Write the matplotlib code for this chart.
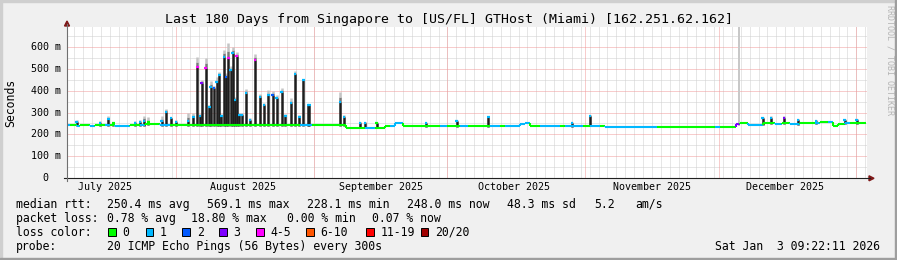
"""
Smokeping style latency graph, last 180 days Singapore -> Miami.
"""

import numpy as np
import pandas as pd
import matplotlib
matplotlib.use("Agg")
from matplotlib import pyplot as plt
from matplotlib import patches
from matplotlib import lines
from matplotlib import transforms
import matplotlib.dates as mdates

START = pd.Timestamp("2025-07-07 09:22")
END = pd.Timestamp("2026-01-03 09:22")

# median rtt baseline, each level holds until the next start
base_start = ["2025-07-07 09:22", "2025-07-08 01:40", "2025-07-09 15:20", "2025-07-10 07:00",
              "2025-07-12 14:10", "2025-07-13 16:40", "2025-07-15 22:40", "2025-07-17 02:10",
              "2025-07-18 04:40", "2025-07-21 14:10", "2025-07-23 19:00", "2025-07-24 22:40",
              "2025-07-28 07:00", "2025-07-30 14:10", "2025-08-28 19:00", "2025-08-31 11:50",
              "2025-09-04 14:10", "2025-09-08 04:40", "2025-09-12 10:40", "2025-09-14 16:40",
              "2025-09-16 22:40", "2025-09-18 02:10", "2025-09-19 04:40", "2025-09-20 23:40",
              "2025-09-29 07:00", "2025-09-30 21:20", "2025-10-03 19:00", "2025-10-05 14:10",
              "2025-10-10 14:10", "2025-10-12 19:00", "2025-10-13 21:20", "2025-10-17 07:00",
              "2025-10-18 10:40", "2025-10-19 14:10", "2025-10-21 19:00", "2025-10-26 07:00",
              "2025-10-27 10:40", "2025-10-31 11:50", "2025-11-02 02:10", "2025-11-04 07:00",
              "2025-11-05 10:40", "2025-11-17 03:20", "2025-11-30 04:40", "2025-12-01 07:00",
              "2025-12-04 21:20", "2025-12-05 19:00", "2025-12-07 14:10", "2025-12-11 00:00",
              "2025-12-13 16:40", "2025-12-15 07:00", "2025-12-17 02:10", "2025-12-19 07:00",
              "2025-12-22 16:40", "2025-12-23 19:00", "2025-12-25 14:10", "2025-12-26 19:00",
              "2025-12-27 21:20", "2025-12-29 09:20", "2025-12-30 14:10"]
base_end = "2026-01-03 04:40"
base_ms = [243, 243, 240, 242, 240, 241, 242, 242, 240, 241, 243, 247, 242, 242, 243, 241,
           243, 231, 231, 231, 237, 237, 252, 238, 237, 238, 237, 238, 237, 238, 238, 247,
           251, 238, 238, 238, 238, 238, 240, 238, 235, 235, 235, 235, 248, 252, 245, 250,
           248, 252, 248, 250, 250, 257, 255, 240, 248, 250, 250]
base_loss = [1, 0, 1, 0, 1, 0, 1, 0, 1, 0, 1, 0, 1, 0, 1, 0, 0, 0, 1, 0, 0, 1, 1, 0,
             1, 0, 1, 0, 1, 0, 1, 1, 1, 0, 1, 0, 1, 0, 1, 0, 1, 0, 1, 0, 3, 0, 1, 0,
             1, 0, 1, 0, 1, 0, 1, 0, 0, 1, 0]

# latency spikes: dense smoke top, faint smoke top (ms) and loss class of the median
spike_time = ["2025-07-09 13:40", "2025-07-14 19:40", "2025-07-16 16:20", "2025-07-17 19:00",
              "2025-07-22 16:40", "2025-07-23 19:00", "2025-07-24 16:40", "2025-07-25 16:30",
              "2025-07-28 16:30", "2025-07-29 16:30", "2025-07-30 19:00", "2025-07-31 21:20",
              "2025-08-03 14:10", "2025-08-04 19:00", "2025-08-05 16:40", "2025-08-06 07:00",
              "2025-08-06 16:40", "2025-08-07 14:10", "2025-08-08 09:20", "2025-08-08 16:40",
              "2025-08-09 11:50", "2025-08-10 02:10", "2025-08-10 16:40", "2025-08-11 02:10",
              "2025-08-11 16:40", "2025-08-12 04:40", "2025-08-12 16:40", "2025-08-13 04:40",
              "2025-08-13 16:40", "2025-08-14 04:40", "2025-08-14 14:10", "2025-08-15 02:10",
              "2025-08-15 16:40", "2025-08-16 16:40", "2025-08-17 14:10", "2025-08-18 16:40",
              "2025-08-19 19:00", "2025-08-20 16:40", "2025-08-21 16:40", "2025-08-22 16:40",
              "2025-08-23 14:10", "2025-08-24 16:40", "2025-08-25 11:50", "2025-08-26 19:00",
              "2025-08-27 16:40", "2025-08-28 16:40", "2025-08-29 14:10", "2025-08-30 14:10",
              "2025-08-30 21:20", "2025-09-06 19:00", "2025-09-07 16:40", "2025-09-11 07:00",
              "2025-09-12 10:40", "2025-09-15 02:10", "2025-09-26 04:40", "2025-10-03 02:10",
              "2025-10-10 04:40", "2025-10-28 23:40", "2025-11-02 02:10", "2025-12-10 21:20",
              "2025-12-12 19:00", "2025-12-15 16:40", "2025-12-18 21:20", "2025-12-22 21:20",
              "2025-12-29 09:20", "2026-01-01 02:10"]
spike_top = [258, 250, 269, 252, 252, 258, 262, 255, 261, 303, 273, 258,
             262, 281, 509, 285, 433, 501, 326, 418, 410, 440, 471, 285,
             554, 460, 547, 494, 570, 357, 559, 290, 290, 387, 268, 539,
             372, 334, 380, 380, 364, 395, 285, 342, 474, 280, 448, 334,
             334, 349, 280, 252, 253, 252, 252, 261, 278, 252, 284, 273,
             276, 276, 268, 262, 265, 268]
spike_smoke = [265, 262, 284, 258, 262, 265, 285, 278, 282, 316, 280, 265,
               297, 300, 554, 295, 450, 547, 335, 445, 420, 460, 485, 295,
               585, 480, 615, 510, 600, 370, 578, 298, 298, 405, 275, 565,
               385, 345, 402, 400, 380, 410, 292, 365, 490, 290, 455, 340,
               340, 395, 290, 258, 258, 256, 256, 266, 285, 256, 290, 278,
               282, 282, 272, 266, 270, 272]
spike_loss = [1, 1, 1, 0, 1, 1, 1, 0, 1, 1, 1, 1,
              1, 1, 4, 1, 3, 4, 1, 1, 2, 1, 1, 1,
              1, 2, 4, 1, 1, 1, 4, 1, 1, 1, 1, 4,
              1, 1, 1, 2, 1, 1, 1, 1, 1, 1, 1, 1,
              1, 1, 1, 1, 1, 0, 1, 1, 1, 1, 1, 1,
              1, 3, 1, 1, 1, 1]

gap_time = "2025-12-05 11:50"

loss_labels = ["0", "1", "2", "3", "4-5", "6-10", "11-19", "20/20"]
loss_colors = ["#00ff00", "#00b8ff", "#0059ff", "#7e00ff", "#ff00ff", "#ff5500", "#ff0000", "#a10000"]

rtt_stats = ["250.4 ms avg", "569.1 ms max", "228.1 ms min", "248.0 ms now", "48.3 ms sd", "5.2", "am/s"]
loss_stats = ["0.78 % avg", "18.80 % max", "0.00 % min", "0.07 % now"]

W, H = 897, 260
YMAX = 690


def fx(x):
    return x / W


def fy(y):
    return 1 - y / H


def main():
    plt.rcParams['font.family'] = ['DejaVu Sans Mono']
    fig = plt.figure(figsize=(W / 100, H / 100), dpi=100)
    fig.patch.set_facecolor('#f0f0f0')

    ax = fig.add_axes([fx(67), fy(178.3), 800 / W, 151.3 / H])
    ax.set_facecolor('white')
    for s in ax.spines.values():
        s.set_visible(False)
    ax.tick_params(length=0, labelbottom=False, labelleft=False)
    ax.set_xlim(mdates.date2num(START), mdates.date2num(END))
    ax.set_ylim(0, YMAX)

    # grid
    days = pd.date_range(START.normalize(), END, freq='D')
    days = days[((days - pd.Timestamp('1970-01-01')).days % 2) == 0]
    ax.vlines(mdates.date2num(days.to_pydatetime()), 0, YMAX, colors='#cfcfcf',
              linestyles=(0, (1, 1)), lw=0.72, zorder=1)
    ax.hlines(np.arange(50, YMAX, 100), *ax.get_xlim(), colors='#cfcfcf',
              linestyles=(0, (1, 1)), lw=0.72, zorder=1)
    months = pd.date_range('2025-08-01', END, freq='MS')
    ax.vlines(mdates.date2num(months.to_pydatetime()), 0, YMAX, colors='#f09a9a',
              linestyles=(0, (1, 1)), lw=0.72, zorder=1)
    ax.hlines(np.arange(100, YMAX, 100), *ax.get_xlim(), colors='#f09a9a',
              linestyles=(0, (1, 1)), lw=0.72, zorder=1)

    # baseline median
    b_t = mdates.date2num(pd.to_datetime(base_start + [base_end]).to_pydatetime())
    for i in range(len(base_ms)):
        c = loss_colors[base_loss[i]]
        ax.hlines(base_ms[i], b_t[i], b_t[i + 1], colors=c, lw=1.5, zorder=3)
        if i > 0:
            ax.vlines(b_t[i], base_ms[i - 1], base_ms[i], colors=c, lw=1.5, zorder=3)

    # spikes with smoke
    s_t = mdates.date2num(pd.to_datetime(spike_time).to_pydatetime())
    idx = np.clip(np.searchsorted(b_t, s_t, side='right') - 1, 0, len(base_ms) - 1)
    s_base = np.array(base_ms)[idx]
    top = np.array(spike_top)
    smoke = np.array(spike_smoke)
    mid = (top + smoke) / 2
    ax.vlines(s_t, top, mid, colors='#7a7a7a', lw=1.8, zorder=2)
    ax.vlines(s_t, mid, smoke, colors='#c4c4c4', lw=1.8, zorder=2)
    ax.vlines(s_t, s_base - 3, top, colors='#1e1e1e', lw=1.8, zorder=2)
    for t, v, l in zip(s_t, top, spike_loss):
        ax.hlines(v, t - 0.3, t + 0.3, colors=loss_colors[l], lw=1.6, zorder=4)

    gt = mdates.date2num(pd.Timestamp(gap_time).to_pydatetime())
    ax.vlines(gt, 240, YMAX, colors='#c8c8c8', lw=1.44, zorder=2)

    # axes and arrows
    fig.add_artist(lines.Line2D([fx(64), fx(870)], [fy(178.3)] * 2, color='#202020', lw=0.8))
    fig.add_artist(lines.Line2D([fx(67)] * 2, [fy(181), fy(24)], color='#707070', lw=0.8))
    arrow = '#7f1818'
    fig.add_artist(patches.Polygon([(fx(64.5), fy(26)), (fx(69.5), fy(26)), (fx(67), fy(21))],
                                   closed=True, color=arrow, transform=fig.transFigure))
    fig.add_artist(patches.Polygon([(fx(869), fy(175.8)), (fx(869), fy(180.8)), (fx(874), fy(178.3))],
                                   closed=True, color=arrow, transform=fig.transFigure))

    fs = 8.3
    afs = 7.2

    # y labels
    yt = transforms.blended_transform_factory(fig.transFigure, ax.transData)
    for v in range(0, 700, 100):
        if v == 0:
            ax.text(fx(48), 0, '0', transform=yt, ha='right', va='center', fontsize=afs)
        else:
            ax.text(fx(60.5), v, '%d m' % v, transform=yt, ha='right', va='center', fontsize=afs)

    # month labels
    xt = transforms.blended_transform_factory(ax.transData, fig.transFigure)
    for m in range(7, 13):
        ts = pd.Timestamp(2025, m, 16)
        ax.text(mdates.date2num(ts.to_pydatetime()), fy(187.3), ts.strftime('%B %Y'),
                transform=xt, ha='center', va='center', fontsize=afs)

    fig.text(fx(448.5), fy(19.3),
             'Last 180 Days from Singapore to [US/FL] GTHost (Miami) [162.251.62.162]',
             ha='center', va='center', fontsize=9.5)
    fig.text(fx(10.7), fy(103), 'Seconds', rotation=90, ha='center', va='center', fontsize=fs)
    fig.text(fx(890), fy(60), 'RRDTOOL / TOBI OETIKER', rotation=-90, ha='center', va='center',
             fontsize=6, color='#b4b4b4')

    # legend
    fig.text(fx(16), fy(204.3), 'median rtt:', va='center', fontsize=fs)
    for x, s in zip([107.3, 206.7, 306.7, 406.7, 506.7, 594, 635], rtt_stats):
        fig.text(fx(x), fy(204.3), s, va='center', fontsize=fs)
    fig.text(fx(16), fy(218.3), 'packet loss:', va='center', fontsize=fs)
    for x, s in zip([107.3, 190.5, 286.7, 371.7], loss_stats):
        fig.text(fx(x), fy(218.3), s, va='center', fontsize=fs)
    fig.text(fx(16), fy(232), 'loss color:', va='center', fontsize=fs)
    box_x = [108.3, 145.7, 182.3, 219.3, 256, 306, 366, 420.7]
    for x, lab, c in zip(box_x, loss_labels, loss_colors):
        fig.add_artist(patches.Rectangle((fx(x), fy(235.7)), 7.5 / W, 7.5 / H, facecolor=c,
                                         edgecolor='black', lw=0.7, transform=fig.transFigure))
        fig.text(fx(x + 14.4), fy(232), lab, va='center', fontsize=fs)
    fig.text(fx(16), fy(246.3), 'probe:', va='center', fontsize=fs)
    fig.text(fx(107.3), fy(246.3), '20 ICMP Echo Pings (56 Bytes) every 300s', va='center', fontsize=fs)
    fig.text(fx(880), fy(246.3), 'Sat Jan  3 09:22:11 2026', ha='right', va='center', fontsize=fs)

    # 3d border
    fig.add_artist(patches.Rectangle((0, fy(2)), 1, 2 / H, color='#cfcfcf', transform=fig.transFigure))
    fig.add_artist(patches.Rectangle((0, 0), 2 / W, 1, color='#cfcfcf', transform=fig.transFigure))
    fig.add_artist(patches.Rectangle((0, 0), 1, 2.5 / H, color='#9e9e9e', transform=fig.transFigure))
    fig.add_artist(patches.Rectangle((fx(895), 0), 2 / W, 1, color='#9e9e9e', transform=fig.transFigure))

    plt.savefig('out.png', dpi=100, facecolor=fig.get_facecolor())


if __name__ == '__main__':
    main()
